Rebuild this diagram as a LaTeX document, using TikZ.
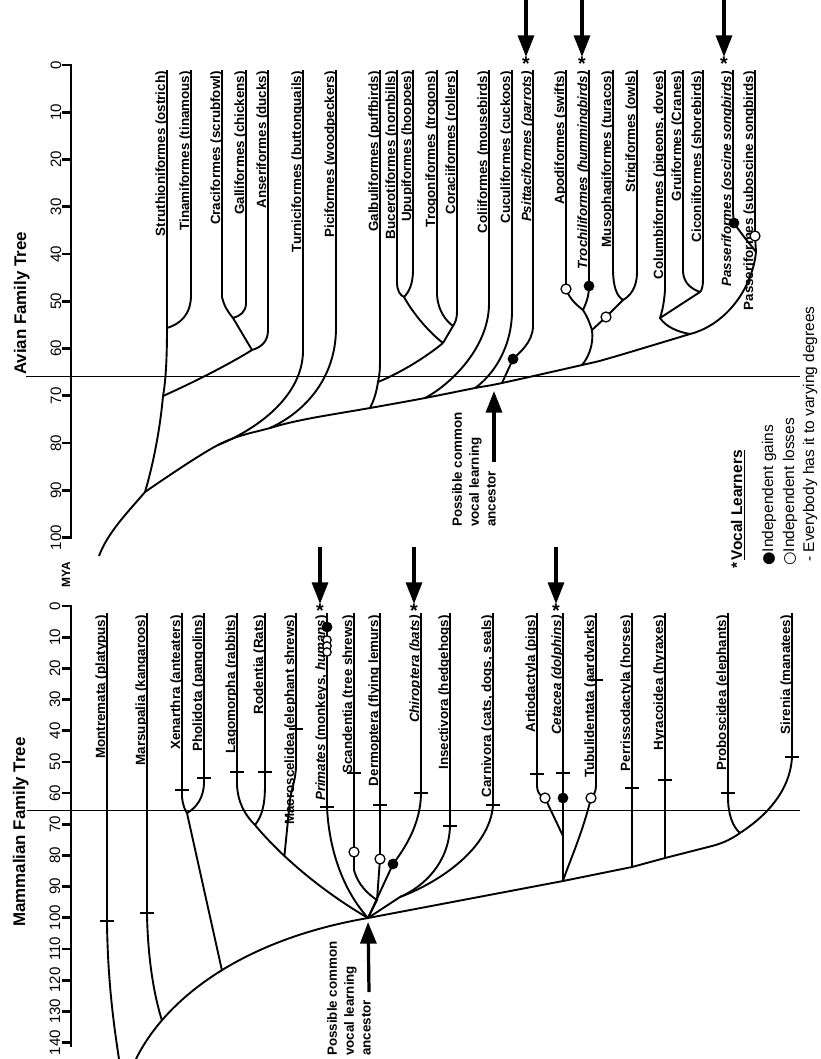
\documentclass[tikz,border=0pt]{standalone}
\usepackage{fontspec}
\setmainfont{Liberation Sans}
\newfontfamily\symfont{DejaVu Sans}
\usetikzlibrary{arrows.meta}

\begin{document}
\begin{tikzpicture}[x=0.025cm, y=-0.025cm,
    lin/.style={line width=1.35pt, line join=round},
    axisline/.style={line width=2pt},
    boundary/.style={line width=0.7pt},
    taxon/.style={rotate=90, anchor=base east, inner sep=0pt,
        font=\fontsize{9.5}{11}\selectfont\bfseries},
    axislab/.style={rotate=90, inner sep=0pt, font=\fontsize{10.7}{12}\selectfont},
    treetitle/.style={rotate=90, anchor=base west, inner sep=0pt,
        font=\fontsize{12}{14}\selectfont\bfseries},
    note/.style={rotate=90, anchor=north west, align=left, inner sep=0pt,
        font=\fontsize{9.5}{12}\selectfont\bfseries},
    legendtext/.style={rotate=90, anchor=base west, inner sep=0pt,
        font=\fontsize{11}{13}\selectfont},
    gain/.style={circle, fill=black, inner sep=0pt, minimum size=0.27cm},
    loss/.style={circle, draw, fill=white, line width=0.9pt, inner sep=0pt, minimum size=0.25cm},
    asterisk/.style={inner sep=0pt, font=\fontsize{14}{14}\selectfont\bfseries},
    learner/.style={-{Triangle[length=0.54cm,width=0.4cm]}, line width=2.3pt}
]
\useasboundingbox (0,0) rectangle (821,1059);

% Time axes
\draw[axisline] (71,605) -- (71,1047);
\foreach \m in {0,10,...,140} {
  \draw[axisline] (62,606+3.118*\m) -- (71,606+3.118*\m);
  \node[axislab] (mt\m) at (55,606+3.118*\m) {\m};
}
\draw[axisline] (71,64) -- (71,539);
\foreach \m in {0,10,...,100} {
  \draw[axisline] (62,65+4.726*\m) -- (71,65+4.726*\m);
  \node[axislab] (at\m) at (56,65+4.726*\m) {\m};
}
\node[axislab, font=\fontsize{8.5}{10}\selectfont\bfseries] (mya) at (66,575) {MYA};

\node[treetitle] (mamtitle) at (25,927) {Mammalian Family Tree};
\node[treetitle] (avtitle) at (26,375) {Avian Family Tree};

% 65 MYA lines
\draw[boundary] (27,810) -- (800,810);
\draw[boundary] (26,376) -- (800,376);

% Mammalian taxa
\foreach \n/\x/\txt in {
  mono/107/{Montremata (platypus)},
  mars/147/{Marsupalia (kangaroos)},
  xen/182/{Xenarthra (anteaters)},
  phol/204/{Pholidota (pangolins)},
  lago/237/{Lagomorpha (rabbits)},
  rod/265/{Rodentia (Rats)},
  macro/296/{Macroscelidea (elephant shrews)},
  prim/327/{\textit{Primates} (monkeys, \textit{humans})},
  scan/354/{Scandentia (tree shrews)},
  derm/380/{Dermoptera (flying lemurs)},
  chir/421/{\textit{Chiroptera (bats)}},
  ins/450/{Insectivora (hedgehogs)},
  carn/493/{Carnivora (cats, dogs, seals)},
  artio/537/{Artiodactyla (pigs)},
  ceta/563/{\textit{Cetacea (dolphins)}},
  tubu/596/{Tubulidentata (aardvarks)},
  peri/632/{Perrissodactyla (horses)},
  hyra/665/{Hyracoidea (hyraxes)},
  prob/728/{Proboscidea (elephants)},
  sir/792/{Sirenia (manatees)}}
{
  \coordinate (\n-tip) at (\x,613);
  \node[taxon] (\n) at (\x-2,615) {\txt};
}

% Mammalian branch points
\coordinate (mamnode) at (368,918);
\coordinate (glires) at (255,825);
\coordinate (xenphol) at (187,813);
\coordinate (scanderm) at (377,900);
\coordinate (inscarn) at (400,897);
\coordinate (cetart) at (563,836);
\coordinate (ceta-j) at (563,881);
\coordinate (peri-j) at (632,867);
\coordinate (hyra-j) at (665,858);
\coordinate (prob-j) at (740,833);
\coordinate (prim-gain) at (327,627);
\coordinate (scan-loss) at (354,852);
\coordinate (derm-loss) at (380,859);
\coordinate (chir-gain) at (393,864);
\coordinate (artio-loss) at (545,798);
\coordinate (ceta-gain) at (563,798);
\coordinate (tubu-loss) at (591,798);

% Mammalian backbone
\draw[lin] (136,1059) .. controls (165,1000) and (240,940) .. (mamnode)
    coordinate[pos=0.22] (mars-j) coordinate[pos=0.53] (xen-j)
  -- (ceta-j) -- (peri-j) -- (hyra-j) -- (712,846)
  .. controls (724,843) and (733,838) .. (prob-j)
  .. controls (760,820) and (790,795) .. (792,757) -- (sir-tip);

\draw[lin] (mono-tip) -- (107,925) .. controls (108,980) and (113,1020) .. (119,1059);
\draw[lin] (mars-tip) -- (147,915) .. controls (148,960) and (154,995) .. (mars-j);
\draw[lin] (xen-tip) -- (182,797) .. controls (183,806) and (185,810) .. (xenphol) -- (xen-j);
\draw[lin] (phol-tip) -- (204,782) .. controls (204,798) and (196,808) .. (xenphol);
\draw[lin] (lago-tip) -- (237,785) .. controls (238,803) and (245,815) .. (glires)
  .. controls (280,855) and (320,890) .. (mamnode) coordinate[pos=0.33] (macro-j);
\draw[lin] (rod-tip) -- (265,785) .. controls (265,805) and (262,816) .. (glires);
\draw[lin] (macro-tip) -- (296,765) .. controls (296,780) and (291,790) .. (290,800) -- (macro-j);
\draw[lin] (prim-tip) -- (327,807) .. controls (329,850) and (343,890) .. (mamnode);
\draw[lin] (scan-tip) -- (scan-loss) -- (354,870) .. controls (358,885) and (368,894) .. (scanderm);
\draw[lin] (derm-tip) -- (derm-loss) -- (scanderm) -- (mamnode);
\draw[lin] (chir-tip) -- (421,795) .. controls (420,825) and (405,848) .. (chir-gain) -- (mamnode);
\draw[lin] (ins-tip) -- (450,826) .. controls (449,862) and (425,886) .. (inscarn);
\draw[lin] (carn-tip) -- (493,805) .. controls (490,848) and (440,882) .. (inscarn) -- (mamnode);
\draw[lin] (artio-tip) -- (537,786) .. controls (537,792) and (540,796) .. (artio-loss) -- (cetart);
\draw[lin] (ceta-tip) -- (ceta-gain) -- (cetart) -- (ceta-j);
\draw[lin] (tubu-tip) -- (596,786) .. controls (596,792) and (593,796) .. (tubu-loss)
  .. controls (582,835) and (568,865) .. (ceta-j);
\draw[lin] (peri-tip) -- (peri-j);
\draw[lin] (hyra-tip) -- (hyra-j);
\draw[lin] (prob-tip) -- (728,797) .. controls (728,815) and (733,827) .. (prob-j);

% Fossil ticks
\foreach \x/\y in {107/921, 147/913, 182/790, 204/778, 237/772, 265/772, 296/729,
    327/807, 354/773, 380/805, 421/793, 450/826, 493/805, 537/774, 563/773,
    596/680, 632/788, 665/780, 728/793, 792/757}
  \draw[lin] (\x,\y) ++(-7,0) -- ++(14,0);

% Gains and losses (mammals)
\node[gain] (pg) at (prim-gain) {};
\node[loss, minimum size=0.21cm] (pl1) at (327,640) {};
\node[loss, minimum size=0.21cm] (pl2) at (327,646) {};
\node[loss, minimum size=0.21cm] (pl3) at (327,652) {};
\node[loss] (sl) at (scan-loss) {};
\node[loss] (dl) at (derm-loss) {};
\node[gain] (cg) at (chir-gain) {};
\node[loss] (al) at (artio-loss) {};
\node[gain] (eg) at (ceta-gain) {};
\node[loss] (tl) at (tubu-loss) {};

% Mammalian vocal learners
\foreach \n/\x in {prim/320, chir/414, ceta/556} {
  \node[asterisk] (\n-ast) at (\x,611) {*};
  \coordinate (\n-arr) at (\x,547);
  \draw[learner] (\n-arr) -- (\n-ast.north);
}

\node[note] (mamanc) at (327,1056) {Possible common\\vocal learning\\ancestor};
\coordinate (mamanc-tail) at (369,992);
\draw[learner, shorten >=0.1cm] (mamanc-tail) -- (mamnode);

% Avian taxa
\foreach \n/\x/\txt in {
  stru/167/{Struthioniformes (ostrich)},
  tina/191/{Tinamiformes (tinamous)},
  crac/222/{Craciformes (scrubfowl)},
  gall/246/{Galliformes (chickens)},
  anse/268/{Anseriformes (ducks)},
  turn/303/{Turniciformes (buttonquails)},
  pici/336/{Piciformes (woodpeckers)},
  galb/380/{Galbuliformes (puffbirds)},
  buce/397/{Bucerotiformes (nornbills)},
  upup/413/{Upupiformes (hoopoes)},
  trog/437/{Trogoniformes (trogons)},
  cora/457/{Coraciiformes (rollers)},
  coli/489/{Coliiformes (mousebirds)},
  cucu/512/{Cuculiformes (cuckoos)},
  psit/533/{\textit{Psittaciformes (parrots)}},
  apod/566/{Apodiformes (swifts)},
  troc/589/{\textit{Trochiliformes (hummingbirds)}},
  muso/613/{Musophagiformes (turacos)},
  stri/637/{Strigiformes (owls)},
  colu/665/{Columbiformes (pigeons, doves)},
  grui/683/{Gruiformes (Cranes)},
  cico/703/{Ciconiiformes (shorebirds)},
  osci/733/{\textit{Passeriformes (oscine songbirds)}},
  subo/755/{Passeriformes (suboscine songbirds)}}
{
  \coordinate (\n-tip) at (\x,70);
  \node[taxon] (\n) at (\x-2,71) {\txt};
}

% Avian branch points
\coordinate (avroot) at (145,492);
\coordinate (tin-j) at (167,328);
\coordinate (gallo-j) at (163,396);
\coordinate (gallo) at (252,350);
\coordinate (cracgall) at (233,318);
\coordinate (turn-j) at (218,445);
\coordinate (pici-j) at (270,428);
\coordinate (galb-j) at (370,408);
\coordinate (cor-j) at (378,382);
\coordinate (bucupu) at (404,297);
\coordinate (trocor) at (453,326);
\coordinate (corac) at (443,343);
\coordinate (coli-j) at (425,398);
\coordinate (cucu-j) at (475,388);
\coordinate (psit-j) at (502,383);
\coordinate (apotro) at (583,310);
\coordinate (apomus) at (592,330);
\coordinate (apod-j) at (582,365);
\coordinate (musstr) at (623,300);
\coordinate (gruci) at (700,292);
\coordinate (colgru) at (660,318);
\coordinate (pass-j) at (756,252);
\coordinate (colpas) at (690,334);
\coordinate (psit-gain) at (513,359);
\coordinate (apod-loss) at (566,289);
\coordinate (troc-gain) at (589,286);
\coordinate (muso-loss) at (606,317);
\coordinate (pass-gain) at (734,223);
\coordinate (pass-loss) at (755,236);

% Avian lineages
\draw[lin] plot[smooth, tension=0.6] coordinates {(avroot) (turn-j) (pici-j) (307,419)
  (galb-j) (coli-j) (cucu-j) (psit-j) (apod-j) (610,358) (colpas)};
\draw[lin] (avroot) .. controls (128,512) and (108,532) .. (99,556);
\draw[lin] (stru-tip) -- (167,300) -- (tin-j) .. controls (167,355) and (166,380) .. (gallo-j)
  .. controls (160,430) and (153,465) .. (avroot);
\draw[lin] (tina-tip) -- (191,295) .. controls (191,315) and (180,324) .. (tin-j);
\draw[lin] (crac-tip) -- (222,297) .. controls (224,306) and (228,312) .. (cracgall) -- (gallo);
\draw[lin] (gall-tip) -- (246,303) .. controls (246,312) and (240,316) .. (cracgall);
\draw[lin] (anse-tip) -- (268,330) .. controls (268,341) and (262,347) .. (gallo);
\draw[lin] (gallo) .. controls (228,365) and (190,384) .. (gallo-j);
\draw[lin] (turn-tip) -- (303,352) .. controls (302,395) and (260,428) .. (turn-j);
\draw[lin] (pici-tip) -- (336,328) .. controls (336,378) and (305,412) .. (pici-j);
\draw[lin] (galb-tip) -- (380,350) .. controls (380,372) .. (cor-j)
  .. controls (376,395) and (373,402) .. (galb-j);
\draw[lin] (cor-j) .. controls (398,374) and (425,358) .. (corac);
\draw[lin] (buce-tip) -- (397,282) .. controls (397,291) and (400,295) .. (bucupu);
\draw[lin] (upup-tip) -- (413,270) .. controls (413,284) and (409,292) .. (bucupu);
\draw[lin] (bucupu) .. controls (414,315) and (430,333) .. (corac);
\draw[lin] (trog-tip) -- (437,295) .. controls (438,310) and (445,320) .. (trocor);
\draw[lin] (cora-tip) -- (457,312) .. controls (457,319) and (455,323) .. (trocor) -- (corac);
\draw[lin] (coli-tip) -- (489,305) .. controls (488,350) and (448,386) .. (coli-j);
\draw[lin] (cucu-tip) -- (512,313) .. controls (511,350) and (492,376) .. (cucu-j);
\draw[lin] (psit-tip) -- (533,327) .. controls (532,343) and (520,352) .. (psit-gain) -- (psit-j);
\draw[lin] (apod-tip) -- (apod-loss) .. controls (570,300) and (578,306) .. (apotro);
\draw[lin] (troc-tip) -- (troc-gain) .. controls (589,298) and (585,305) .. (apotro)
  .. controls (588,318) and (590,324) .. (apomus) .. controls (594,345) and (588,358) .. (apod-j);
\draw[lin] (muso-tip) -- (613,268) .. controls (613,288) and (617,296) .. (musstr)
  -- (muso-loss) -- (apomus);
\draw[lin] (stri-tip) -- (637,272) .. controls (637,288) and (630,296) .. (musstr);
\draw[lin] (colu-tip) -- (665,290) .. controls (664,304) and (662,312) .. (colgru)
  .. controls (666,327) and (678,332) .. (colpas);
\draw[lin] (grui-tip) -- (683,272) .. controls (684,284) and (692,289) .. (gruci) -- (colgru);
\draw[lin] (cico-tip) -- (703,279) .. controls (703,286) and (702,290) .. (gruci);
\draw[lin] (osci-tip) -- (733,213) .. controls (733,218) .. (pass-gain)
  .. controls (742,235) and (750,244) .. (pass-j) .. controls (752,290) and (725,325) .. (colpas);
\draw[lin] (subo-tip) -- (pass-loss) -- (pass-j);

% Gains and losses (birds)
\node[gain] (psg) at (psit-gain) {};
\node[loss] (apl) at (apod-loss) {};
\node[gain] (trg) at (troc-gain) {};
\node[loss] (mul) at (muso-loss) {};
\node[gain] (pag) at (pass-gain) {};
\node[loss] (pal) at (pass-loss) {};

% Avian vocal learners
\foreach \n/\x in {psit/526, troc/582, osci/724} {
  \node[asterisk] (\n-ast) at (\x,64) {*};
  \coordinate (\n-arr) at (\x,0);
  \draw[learner] (\n-arr) -- (\n-ast.north);
}

\node[note] (avanc) at (452,527) {Possible common\\vocal learning\\ancestor};
\coordinate (avanc-tail) at (494,462);
\coordinate (avanc-tip) at (494,391);
\draw[learner] (avanc-tail) -- (avanc-tip);

% Legend
\node[legendtext, font=\fontsize{11}{13}\selectfont\bfseries] (lg-title) at (742,569) {*\,\underline{Vocal Learners}};
\node[legendtext] (lg-gain) at (773,566) {{\symfont ●}Independent gains};
\node[legendtext] (lg-loss) at (794,566) {{\symfont ○}Independent losses};
\node[legendtext] (lg-all) at (814,562) {- Everybody has it to varying degrees};
\end{tikzpicture}
\end{document}
